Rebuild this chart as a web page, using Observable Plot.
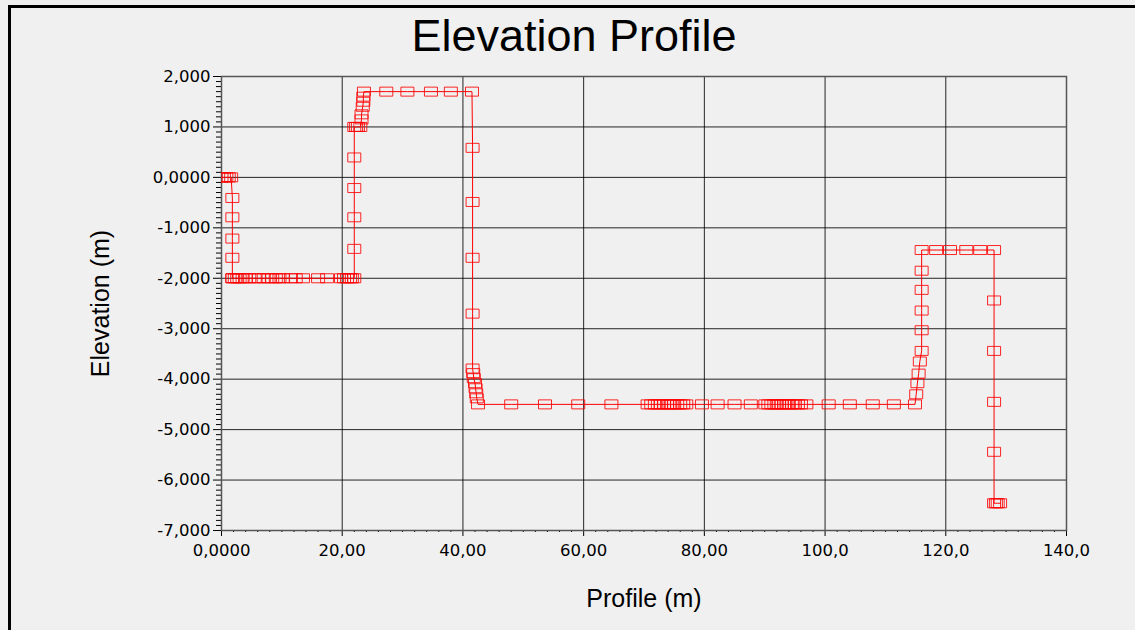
<!DOCTYPE html>
<html><head><meta charset="utf-8">
<script src="https://cdn.jsdelivr.net/npm/d3@7"></script>
<script src="https://cdn.jsdelivr.net/npm/@observablehq/plot@0.6"></script>
<style>
body{margin:0;background:#fff;}
#wrap{position:relative;width:1135px;height:630px;background:#f0f0f0;overflow:hidden;}
#wrap svg{position:absolute;left:0;top:0;}
#bl{position:absolute;left:8px;top:5px;width:3px;height:625px;background:#000;}
#bt{position:absolute;left:8px;top:5px;width:1127px;height:3px;background:#000;}
</style></head><body>
<div id="wrap"><div id="bl"></div><div id="bt"></div></div>
<script>
const titleText = "Elevation Profile";
const xLabelText = "Profile (m)";
const yLabelText = "Elevation (m)";

const profile = [
  0, 0.4, 0.8, 1.2, 1.6, 1.8, 1.8, 1.8, 1.8, 1.8,
  1.8, 2.2, 2.6, 3.0, 3.5, 4.0, 4.6, 5.5, 6.2, 7.0, 7.8, 8.4, 9.0, 9.6, 10.2, 11.5, 12.3, 13.5, 16.0, 17.5, 19.8, 20.3, 20.8, 21.3, 21.6, 22.0,
  22.0, 22.0, 22.0, 22.0, 22.0,
  22.3, 22.6, 23.0, 23.2, 23.2, 23.4, 23.5, 23.5, 23.6,
  27.3, 30.8, 34.7, 38.0, 41.5,
  41.6, 41.6, 41.6, 41.6, 41.6,
  41.7, 41.8, 42.0, 42.1, 42.2, 42.3, 42.5,
  48.0, 53.6, 59.1, 64.6,
  70.6, 71.2, 71.8, 72.3, 72.8, 73.3, 73.8, 74.2, 74.6, 75.0, 75.5, 76.0, 76.5, 77.0,
  79.6, 82.2, 85.0, 87.7,
  90.1, 90.6, 91.1, 91.6, 92.0, 92.4, 92.8, 93.2, 93.6, 94.0, 94.5, 95.0, 95.5, 96.0, 96.9,
  100.6, 104.1, 107.9, 111.4, 114.9,
  115.1, 115.3, 115.5, 115.7, 116.0, 116.0, 116.0, 116.0, 116.0, 116.0,
  118.4, 120.7, 123.4, 125.7, 128.0,
  128.0, 128.0, 128.0, 128.0, 128.0,
  128.3, 128.6, 129.0
];
const elevation = [
  0, 0, 0, 0, 0, -408, -791, -1213, -1594, -2000,
  -2000, -2000, -2000, -2000, -2000, -2000, -2000, -2000, -2000, -2000, -2000, -2000, -2000, -2000, -2000, -2000, -2000, -2000, -2000, -2000, -2000, -2000, -2000, -2000, -2000, -2000,
  -1417, -791, -211, 395, 1000,
  1000, 1000, 1000, 1150, 1250, 1400, 1500, 1600, 1700,
  1700, 1700, 1700, 1700, 1700,
  586, -487, -1594, -2701, -3789,
  -3880, -3980, -4080, -4180, -4280, -4380, -4500,
  -4500, -4500, -4500, -4500,
  -4500, -4500, -4500, -4500, -4500, -4500, -4500, -4500, -4500, -4500, -4500, -4500, -4500, -4500,
  -4500, -4500, -4500, -4500,
  -4500, -4500, -4500, -4500, -4500, -4500, -4500, -4500, -4500, -4500, -4500, -4500, -4500, -4500, -4500,
  -4500, -4500, -4500, -4500, -4500,
  -4300, -4080, -3890, -3650, -3440, -3030, -2640, -2230, -1850, -1440,
  -1440, -1440, -1440, -1440, -1440,
  -2440, -3440, -4450, -5440, -6460,
  -6460, -6460, -6460
];

const xTicks = [0, 20, 40, 60, 80, 100, 120, 140];
const xTickLabels = ["0,0000", "20,00", "40,00", "60,00", "80,00", "100,0", "120,0", "140,0"];
const yTicks = [2000, 1000, 0, -1000, -2000, -3000, -4000, -5000, -6000, -7000];
const yTickLabels = ["2,000", "1,000", "0,0000", "-1,000", "-2,000", "-3,000", "-4,000", "-5,000", "-6,000", "-7,000"];

const data = profile.map((p, i) => ({p, e: elevation[i]}));
const xMinor = d3.range(0, 141, 2).filter(d => !xTicks.includes(d));
const yMinor = d3.range(-7000, 2001, 100).filter(d => !yTicks.includes(d));

const boxSymbol = {draw(ctx) {
  ctx.moveTo(-6.5, -4.5); ctx.lineTo(6.5, -4.5); ctx.lineTo(6.5, 4.5); ctx.lineTo(-6.5, 4.5); ctx.closePath();
}};

const tickFont = "DejaVu Sans, Verdana, sans-serif";
const labelFont = "Liberation Sans, Arial, sans-serif";

const chart = Plot.plot({
  width: 1135, height: 630,
  marginLeft: 221, marginRight: 69, marginTop: 76, marginBottom: 100,
  style: {background: "transparent", color: "#000"},
  x: {domain: [0, 140]},
  y: {domain: [-7000, 2000]},
  marks: [
    Plot.gridX(xTicks, {stroke: "#000", strokeOpacity: 0.85}),
    Plot.gridY(yTicks, {stroke: "#000", strokeOpacity: 0.85}),
    Plot.axisX(xMinor, {tickSize: 2, text: null, label: null}),
    Plot.axisY(yMinor, {tickSize: 5, text: null, label: null}),
    Plot.axisX(xTicks, {tickSize: 6, tickPadding: 8, fontSize: 16.5, fontFamily: tickFont, tickFormat: d => xTickLabels[xTicks.indexOf(d)], label: null}),
    Plot.axisY(yTicks, {tickSize: 8, tickPadding: 3, fontSize: 16.5, fontFamily: tickFont, tickFormat: d => yTickLabels[yTicks.indexOf(d)], label: null}),
    Plot.frame({stroke: "#555", strokeWidth: 1.5}),
    Plot.line(data, {x: "p", y: "e", stroke: "red", strokeWidth: 1, clip: true}),
    Plot.dot(data, {x: "p", y: "e", symbol: boxSymbol, stroke: "red", fill: "none", strokeWidth: 1, strokeOpacity: 0.85, clip: true}),
    Plot.text([titleText], {frameAnchor: "top", textAnchor: "middle", lineAnchor: "middle", dx: -70, dy: -40, fontSize: 45, fontFamily: labelFont, fill: "#000"}),
    Plot.text([xLabelText], {frameAnchor: "bottom", textAnchor: "middle", lineAnchor: "middle", dy: 68, fontSize: 25, fontFamily: labelFont, fill: "#000"}),
    Plot.text([yLabelText], {frameAnchor: "left", textAnchor: "middle", lineAnchor: "middle", dx: -121, rotate: -90, fontSize: 25, fontFamily: labelFont, fill: "#000"})
  ]
});
document.getElementById("wrap").prepend(chart);
</script>
</body></html>
